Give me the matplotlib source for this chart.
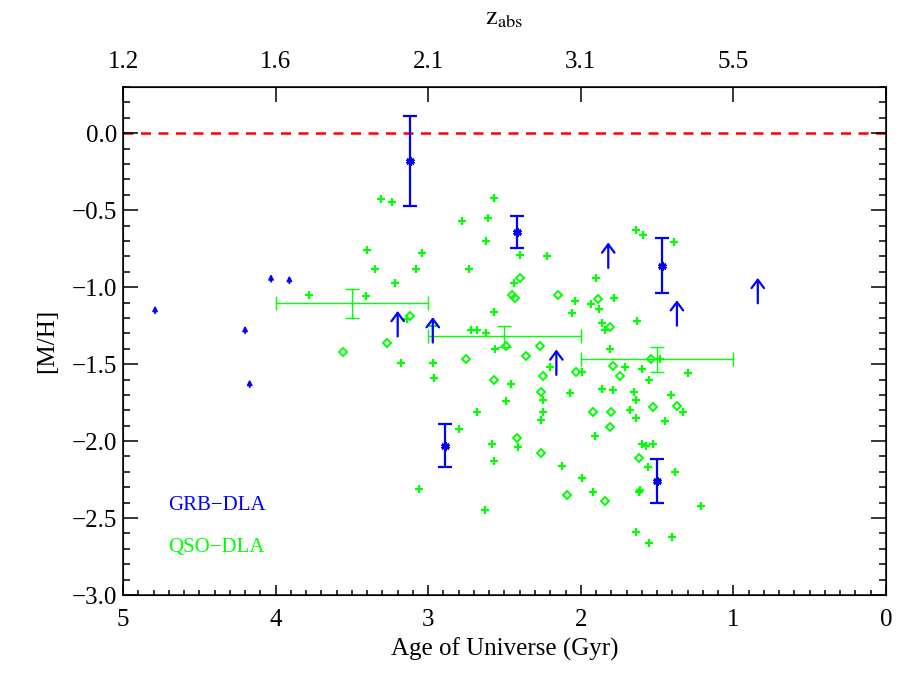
import matplotlib
matplotlib.use('Agg')
import matplotlib.pyplot as plt
from matplotlib.ticker import MultipleLocator

plt.rcParams['font.family'] = ['Liberation Serif', 'DejaVu Serif']
plt.rcParams['mathtext.fontset'] = 'stix'

# QSO-DLA (green) crosses
qso_plus_age = [3.31, 3.24, 3.40, 3.35, 3.04, 3.08, 3.22, 3.78, 3.41, 2.57, 2.78, 2.61, 2.62, 2.73,
                2.57, 2.72, 2.68, 2.62, 2.97, 3.14, 2.40, 2.22, 2.44, 2.04, 2.06, 1.90, 1.93, 1.88,
                1.78, 1.64, 1.59, 1.39, 1.63, 1.86, 1.84, 2.56, 1.81, 3.18, 2.97, 2.96, 2.68, 2.80,
                2.58, 2.57, 3.06, 2.63, 2.20, 1.99, 2.46, 2.25, 2.49, 2.25, 2.26, 2.07, 1.91, 1.48,
                1.71, 1.60, 1.55, 1.30, 1.86, 1.79, 1.65, 1.64, 1.41, 1.33, 1.68, 1.64, 1.45, 2.41,
                2.12, 1.99, 1.92, 1.60, 1.57, 1.53, 1.56, 1.38, 1.61, 1.62, 1.21, 1.64, 1.55, 1.40]
qso_plus_mh = [-0.43, -0.45, -0.76, -0.88, -0.78, -0.88, -0.97, -1.05, -1.06, -0.42, -0.57, -0.55, -0.70, -0.88,
               -1.16, -1.28, -1.28, -1.30, -1.25, -1.21, -0.79, -0.80, -0.97, -1.09, -1.17, -0.94, -1.11, -1.14,
               -1.07, -0.63, -0.66, -0.71, -1.22, -1.23, -1.28, -1.40, -1.40, -1.49, -1.49, -1.59, -1.81, -1.92,
               -2.02, -2.13, -2.31, -2.45, -1.52, -1.55, -1.63, -1.73, -1.74, -1.81, -1.86, -1.69, -1.97, -1.47,
               -1.52, -1.53, -1.60, -1.56, -1.66, -1.67, -1.68, -1.73, -1.70, -1.81, -1.80, -1.85, -1.87, -2.04,
               -2.16, -2.24, -2.33, -2.02, -2.03, -2.02, -2.17, -2.20, -2.32, -2.33, -2.42, -2.59, -2.66, -2.62]

# QSO-DLA (green) diamonds
qso_diam_age = [3.12, 3.27, 3.56, 2.75, 2.57, 2.40, 2.45, 2.43, 2.15, 1.89, 1.81, 2.49, 2.27, 2.36, 2.25,
                2.26, 2.03, 1.92, 1.54, 1.79, 1.74, 1.37, 1.53, 1.80, 1.81, 2.42, 2.26, 2.09, 1.84, 1.62]
qso_diam_mh = [-1.19, -1.36, -1.42, -1.47, -1.60, -0.94, -1.05, -1.07, -1.05, -1.08, -1.26, -1.38, -1.38, -1.45, -1.58,
               -1.68, -1.55, -1.81, -1.47, -1.51, -1.58, -1.77, -1.78, -1.81, -1.91, -1.98, -2.08, -2.35, -2.39, -2.11]

# QSO-DLA binned means
bin_age = [3.5, 2.5, 1.5]
bin_age_err = [0.5, 0.5, 0.5]
bin_mh = [-1.105, -1.32, -1.47]
bin_mh_err = [0.094, 0.07, 0.08]

# GRB-DLA measurements
grb_age = [3.12, 2.42, 1.47, 2.89, 1.50]
grb_mh = [-0.18, -0.64, -0.86, -2.03, -2.26]
grb_err = [0.29, 0.105, 0.18, 0.14, 0.145]

# GRB-DLA lower limits (big arrows) and small arrows
lim_age = [3.20, 2.97, 1.82, 1.37, 0.84, 2.16]
lim_mh = [-1.32, -1.36, -0.875, -1.25, -1.105, -1.57]
small_age = [4.79, 4.03, 3.91, 4.20, 4.17]
small_mh = [-1.17, -0.965, -0.975, -1.30, -1.65]

# top axis (redshift)
z_pos = [5, 4, 3, 2, 1, 0]
z_labels = ['1.2', '1.6', '2.1', '3.1', '5.5', '']

blue = '#0000ff'
green = '#00ff00'

fig = plt.figure(figsize=(9, 6.83), dpi=100)
ax = fig.add_axes([0.1367, 0.1288, 0.8477, 0.7438])

ax.axhline(0.0, color='#ff0000', ls=(0, (4, 3)), lw=1.8, zorder=1)

ax.plot(qso_plus_age, qso_plus_mh, ls='none', marker='+', color=green, ms=6, mew=1.6)
ax.plot(qso_diam_age, qso_diam_mh, ls='none', marker='D', mfc='none', mec=green, ms=3.8, mew=1.4)
ax.errorbar(bin_age, bin_mh, xerr=bin_age_err, yerr=bin_mh_err, fmt='none', ecolor=green,
            elinewidth=1.0, capsize=5, capthick=1.0)

ax.errorbar(grb_age, grb_mh, yerr=grb_err, fmt='none', ecolor=blue, elinewidth=1.6,
            capsize=5, capthick=1.6, zorder=4)
ax.plot(grb_age, grb_mh, ls='none', marker=(6, 2, 0), color=blue, ms=6, mew=2.0, zorder=5)

for a, m in zip(lim_age, lim_mh):
    ax.annotate('', xy=(a, m + 0.165), xytext=(a, m), xycoords='data',
                arrowprops=dict(arrowstyle='->,head_length=0.6,head_width=0.45', color=blue,
                                lw=1.6, shrinkA=0, shrinkB=0, mutation_scale=10))
# small arrows: short stem with a small head
for a, m in zip(small_age, small_mh):
    ax.annotate('', xy=(a, m + 0.05), xytext=(a, m), xycoords='data',
                arrowprops=dict(arrowstyle='-|>,head_length=0.35,head_width=0.18', color=blue,
                                lw=1.3, shrinkA=0, shrinkB=0, mutation_scale=8))

ax.set_xlim(5, 0)
ax.set_ylim(-3.0, 0.3)
ax.xaxis.set_major_locator(MultipleLocator(1))
ax.xaxis.set_minor_locator(MultipleLocator(0.1))
ax.yaxis.set_major_locator(MultipleLocator(0.5))
ax.yaxis.set_minor_locator(MultipleLocator(0.1))
ax.yaxis.set_major_formatter(plt.FuncFormatter(
    lambda v, p: ('%.1f' % v).replace('-', '\u2212') if abs(v) > 1e-9 else '0.0'))
ax.tick_params(axis='x', which='major', direction='in', length=7.5, width=1.1, labelsize=18, pad=10, top=False)
ax.tick_params(axis='x', which='minor', direction='in', length=3.7, width=1.1, top=False)
ax.tick_params(axis='y', which='major', direction='in', length=11, width=1.1, labelsize=18, pad=4, right=True)
ax.tick_params(axis='y', which='minor', direction='in', length=5, width=1.1, right=True)
for s in ax.spines.values():
    s.set_linewidth(1.1)

ax.set_xlabel('Age of Universe (Gyr)', fontsize=18, labelpad=5)
ax.set_ylabel('[M/H]', fontsize=18, labelpad=10)

# top axis with redshift labels
top = ax.twiny()
top.set_xlim(5, 0)
top.set_xticks(z_pos)
top.set_xticklabels(z_labels)
top.tick_params(axis='x', direction='in', length=11, width=1.1, labelsize=18, pad=10)
top.set_xlabel(r'$\mathrm{z}_{\mathrm{abs}}$', fontsize=19, labelpad=19)

ax.text(0.059, 0.167, 'GRB\u2212DLA', color=blue, fontsize=15, transform=ax.transAxes)
ax.text(0.059, 0.085, 'QSO\u2212DLA', color=green, fontsize=15, transform=ax.transAxes)

fig.savefig('out.png', dpi=100)
